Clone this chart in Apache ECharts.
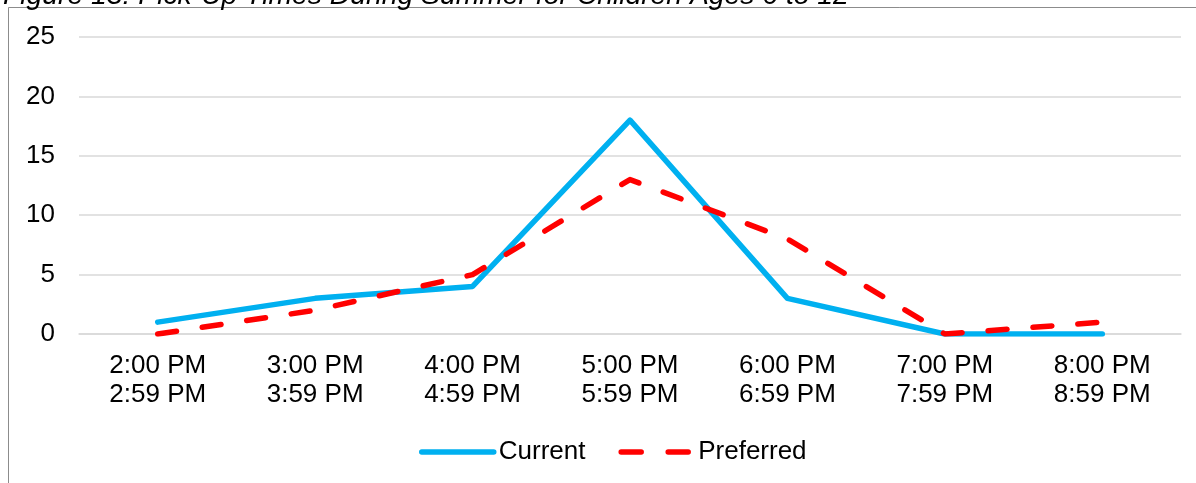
<!DOCTYPE html>
<html>
<head>
<meta charset="utf-8">
<script src="https://cdn.jsdelivr.net/npm/echarts@6/dist/echarts.min.js"></script>
<style>
  html, body { margin: 0; padding: 0; background: #ffffff; }
  #chart { width: 1196px; height: 483px; }
</style>
</head>
<body>
<div id="chart"></div>
<script>
// Pick-up time slots (two-line labels: start / end of hour)
const timeSlots = [
  '2:00 PM\n2:59 PM',
  '3:00 PM\n3:59 PM',
  '4:00 PM\n4:59 PM',
  '5:00 PM\n5:59 PM',
  '6:00 PM\n6:59 PM',
  '7:00 PM\n7:59 PM',
  '8:00 PM\n8:59 PM'
];
const currentTimes = [1, 3, 4, 18, 3, 0, 0];
const preferredTimes = [0, 2, 5, 13, 8, 0, 1];
const titleText = 'Figure 13: Pick-Up Times During Summer for Children Ages 6 to 12';

const FONT = 'Liberation Sans, Arial, sans-serif';
const chart = echarts.init(document.getElementById('chart'), null, { renderer: 'canvas' });

chart.setOption({
  backgroundColor: '#ffffff',
  animation: false,
  graphic: [
    {
      // chart frame (top and left edges visible)
      type: 'rect',
      z: -10,
      shape: { x: 8.5, y: 7.5, width: 1300, height: 700 },
      style: { fill: '#ffffff', stroke: '#8c8c8c', lineWidth: 1 }
    },
    {
      type: 'text',
      left: 3,
      top: -18,
      style: {
        text: titleText,
        font: 'italic 28.3px ' + FONT,
        fill: '#000000'
      }
    }
  ],
  grid: { left: 79, right: 15, top: 37, bottom: 149, containLabel: false },
  legend: {
    data: [
      { name: 'Current' },
      { name: 'Preferred', lineStyle: { type: [20, 27] } }
    ],
    top: 434,
    left: 414,
    itemWidth: 72,
    itemHeight: 10,
    itemGap: 33,
    itemStyle: { color: 'transparent', borderColor: 'transparent', borderWidth: 0 },
    lineStyle: { width: 5.5, cap: 'round' },
    textStyle: { fontFamily: FONT, fontSize: 26, color: '#000000' }
  },
  xAxis: {
    type: 'category',
    data: timeSlots,
    boundaryGap: true,
    axisLine: { show: true, lineStyle: { color: '#d9d9d9', width: 1.5 } },
    axisTick: { show: false },
    axisLabel: {
      fontFamily: FONT,
      fontSize: 26,
      lineHeight: 29,
      color: '#000000',
      margin: 17,
      interval: 0
    }
  },
  yAxis: {
    type: 'value',
    min: 0,
    max: 25,
    interval: 5,
    axisLine: { show: false },
    axisTick: { show: false },
    splitLine: { lineStyle: { color: '#d9d9d9', width: 1.5 } },
    axisLabel: {
      fontFamily: FONT,
      fontSize: 26,
      color: '#000000',
      margin: 24
    }
  },
  series: [
    {
      name: 'Current',
      type: 'line',
      data: currentTimes,
      symbol: 'none',
      color: '#00b0f0',
      lineStyle: { color: '#00b0f0', width: 5.5, cap: 'round', join: 'round' },
      z: 3
    },
    {
      name: 'Preferred',
      type: 'line',
      data: preferredTimes,
      symbol: 'none',
      color: '#ff0000',
      lineStyle: { color: '#ff0000', width: 5.5, type: [19, 26], cap: 'round', join: 'round' },
      z: 4
    }
  ]
});
</script>
</body>
</html>
